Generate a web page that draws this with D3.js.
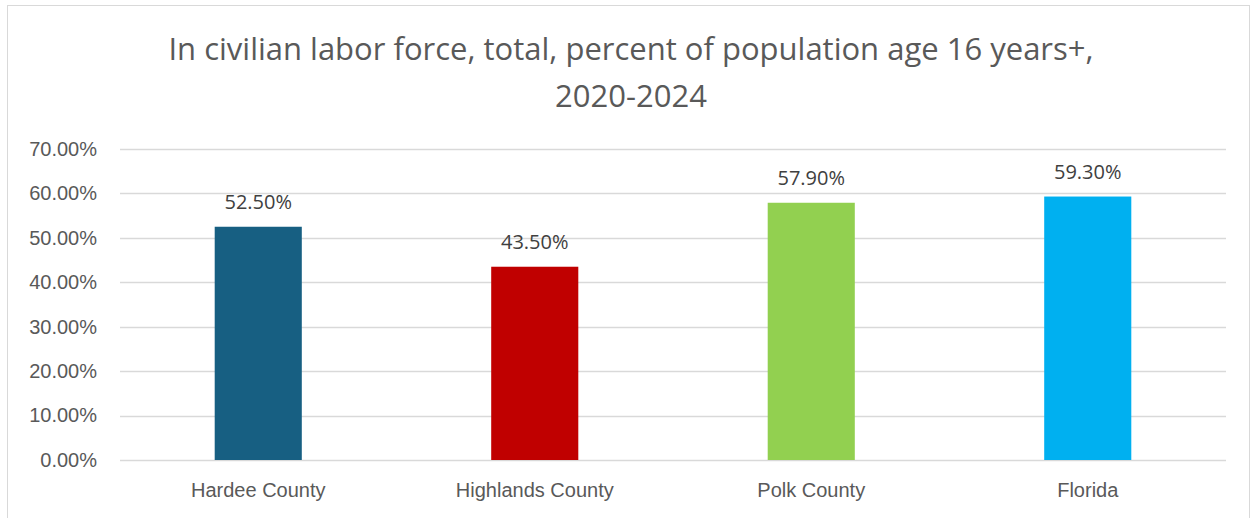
<!DOCTYPE html>
<html>
<head>
<meta charset="utf-8">
<script src="https://cdn.jsdelivr.net/npm/d3@7"></script>
<style>
  html, body { margin: 0; padding: 0; background: #fff; }
  svg { display: block; font-family: "Open Sans", "Noto Sans", sans-serif; }
</style>
</head>
<body>
<svg id="chart" width="1253" height="518"></svg>
<script>
// Labor force participation, 2020-2024
const categories = ["Hardee County", "Highlands County", "Polk County", "Florida"];
const values = [52.5, 43.5, 57.9, 59.3];
const barColors = ["#175F82", "#C00000", "#92D050", "#00B0F0"];
const yTicks = [0, 10, 20, 30, 40, 50, 60, 70];
const titleLines = ["In civilian labor force, total, percent of population age 16 years+,", "2020-2024"];

const svg = d3.select("#chart");
const W = 1253, H = 518;
const margin = { left: 120, right: 27, top: 149, bottom: 58 };
const textColor = "#595959";

// outer frame
svg.append("rect")
  .attr("x", 7.5).attr("y", 5.5)
  .attr("width", W - 11).attr("height", H + 10)
  .attr("fill", "#fff").attr("stroke", "#d9d9d9").attr("stroke-width", 1);

const x = d3.scaleBand()
  .domain(categories)
  .range([margin.left, W - margin.right])
  .paddingInner(0.685)
  .paddingOuter(0.3425);

const y = d3.scaleLinear()
  .domain([0, 70])
  .range([H - margin.bottom, margin.top]);

// gridlines
svg.append("g")
  .selectAll("line")
  .data(yTicks)
  .join("line")
  .attr("x1", margin.left).attr("x2", W - margin.right)
  .attr("y1", d => Math.round(y(d)) + 0.5).attr("y2", d => Math.round(y(d)) + 0.5)
  .attr("stroke", "#d9d9d9").attr("stroke-width", 1.5);

// y axis labels
const yAxis = d3.axisLeft(y)
  .tickValues(yTicks)
  .tickSize(0)
  .tickPadding(0)
  .tickFormat(d => d.toFixed(2) + "%");
const gy = svg.append("g")
  .attr("transform", `translate(${margin.left - 23},0)`)
  .call(yAxis);
gy.select(".domain").remove();
gy.selectAll("text")
  .attr("fill", textColor)
  .style("font-size", "20px");

// bars
svg.append("g")
  .selectAll("rect")
  .data(values)
  .join("rect")
  .attr("x", (d, i) => x(categories[i]))
  .attr("width", x.bandwidth())
  .attr("y", d => y(d))
  .attr("height", d => y(0) - y(d))
  .attr("fill", (d, i) => barColors[i]);

// value labels
svg.append("g")
  .selectAll("text")
  .data(values)
  .join("text")
  .attr("x", (d, i) => x(categories[i]) + x.bandwidth() / 2)
  .attr("y", d => y(d) - 18)
  .attr("text-anchor", "middle")
  .attr("fill", "#404040")
  .style("font-size", "20px")
  .text(d => d.toFixed(2) + "%");

// x axis labels
const xAxis = d3.axisBottom(x).tickSize(0).tickPadding(0);
const gx = svg.append("g")
  .attr("transform", `translate(0,${y(0)})`)
  .call(xAxis);
gx.select(".domain").remove();
gx.selectAll("text")
  .attr("dy", "0")
  .attr("y", 37)
  .attr("fill", textColor)
  .style("font-size", "20px");

// title
svg.append("g")
  .selectAll("text")
  .data(titleLines)
  .join("text")
  .attr("x", 631)
  .attr("y", (d, i) => 60 + i * 47)
  .attr("text-anchor", "middle")
  .attr("fill", textColor)
  .style("font-size", "31px")
  .text(d => d);
</script>
</body>
</html>
